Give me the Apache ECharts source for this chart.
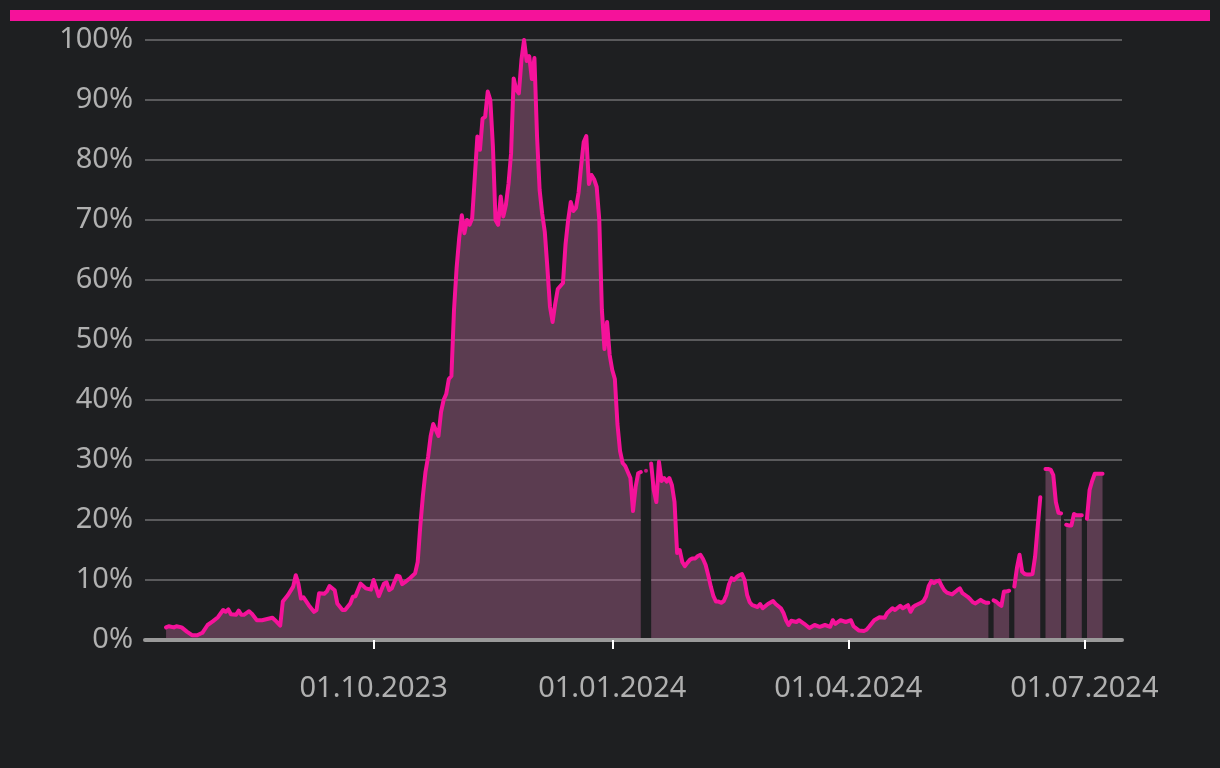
<!DOCTYPE html>
<html>
<head>
<meta charset="utf-8">
<script src="https://cdn.jsdelivr.net/npm/echarts@6/dist/echarts.min.js"></script>
<style>
  html, body { margin:0; padding:0; background:#1e1f21; }
  #chart { width:1220px; height:768px; }
</style>
</head>
<body>
<div id="chart"></div>
<script>
// ---- data ----
const dates = [
'2023-07-13','2023-07-14','2023-07-16','2023-07-17','2023-07-19','2023-07-21','2023-07-23','2023-07-25','2023-07-27','2023-07-29',
'2023-07-31','2023-08-02','2023-08-04','2023-08-05','2023-08-06','2023-08-07','2023-08-09','2023-08-10','2023-08-11','2023-08-12',
'2023-08-14','2023-08-15','2023-08-17','2023-08-19','2023-08-21','2023-08-23','2023-08-24','2023-08-26','2023-08-27','2023-08-29',
'2023-08-31','2023-09-01','2023-09-02','2023-09-03','2023-09-04','2023-09-06','2023-09-08','2023-09-09','2023-09-10','2023-09-12',
'2023-09-13','2023-09-14','2023-09-16','2023-09-17','2023-09-19','2023-09-20','2023-09-22','2023-09-23','2023-09-24','2023-09-26',
'2023-09-28','2023-09-30','2023-10-01','2023-10-03','2023-10-05','2023-10-06','2023-10-07','2023-10-08','2023-10-10','2023-10-11',
'2023-10-12','2023-10-13','2023-10-15','2023-10-16','2023-10-17','2023-10-18','2023-10-19','2023-10-20','2023-10-21','2023-10-22',
'2023-10-23','2023-10-24','2023-10-25','2023-10-26','2023-10-27','2023-10-28','2023-10-29','2023-10-30','2023-10-31','2023-11-01',
'2023-11-02','2023-11-03','2023-11-04','2023-11-05','2023-11-06','2023-11-07','2023-11-08','2023-11-09','2023-11-10','2023-11-11',
'2023-11-12','2023-11-13','2023-11-14','2023-11-15','2023-11-16','2023-11-17','2023-11-18','2023-11-19','2023-11-20','2023-11-21',
'2023-11-22','2023-11-23','2023-11-24','2023-11-25','2023-11-26','2023-11-27','2023-11-28','2023-11-29','2023-11-30','2023-12-01',
'2023-12-02','2023-12-03','2023-12-04','2023-12-05','2023-12-06','2023-12-07','2023-12-08','2023-12-09','2023-12-10','2023-12-11',
'2023-12-12','2023-12-13','2023-12-14','2023-12-15','2023-12-16','2023-12-17','2023-12-18','2023-12-19','2023-12-20','2023-12-21',
'2023-12-22','2023-12-23','2023-12-24','2023-12-25','2023-12-26','2023-12-27','2023-12-28','2023-12-29','2023-12-30','2023-12-31',
'2024-01-01','2024-01-02','2024-01-03','2024-01-04','2024-01-05','2024-01-06','2024-01-07','2024-01-08','2024-01-09','2024-01-10',
'2024-01-11','2024-01-12','2024-01-13','2024-01-14','2024-01-15','2024-01-16','2024-01-17','2024-01-18','2024-01-19','2024-01-20',
'2024-01-21','2024-01-22','2024-01-23','2024-01-24','2024-01-25','2024-01-26','2024-01-27','2024-01-28','2024-01-29','2024-01-30',
'2024-01-31','2024-02-01','2024-02-02','2024-02-03','2024-02-04','2024-02-05','2024-02-06','2024-02-07','2024-02-08','2024-02-09',
'2024-02-10','2024-02-11','2024-02-12','2024-02-13','2024-02-14','2024-02-15','2024-02-16','2024-02-17','2024-02-18','2024-02-19',
'2024-02-20','2024-02-21','2024-02-22','2024-02-23','2024-02-24','2024-02-26','2024-02-27','2024-02-28','2024-03-01','2024-03-03',
'2024-03-04','2024-03-06','2024-03-07','2024-03-08','2024-03-09','2024-03-10','2024-03-12','2024-03-13','2024-03-15','2024-03-17',
'2024-03-19','2024-03-21','2024-03-23','2024-03-25','2024-03-26','2024-03-27','2024-03-29','2024-03-31','2024-04-02','2024-04-03',
'2024-04-05','2024-04-07','2024-04-08','2024-04-09','2024-04-11','2024-04-13','2024-04-15','2024-04-16','2024-04-18','2024-04-19',
'2024-04-21','2024-04-22','2024-04-24','2024-04-25','2024-04-26','2024-04-27','2024-04-29','2024-04-30','2024-05-01','2024-05-02',
'2024-05-03','2024-05-04','2024-05-05','2024-05-06','2024-05-07','2024-05-08','2024-05-09','2024-05-11','2024-05-13','2024-05-14',
'2024-05-15','2024-05-17','2024-05-18','2024-05-19','2024-05-20','2024-05-22','2024-05-23','2024-05-24','2024-05-25','2024-05-26',
'2024-05-27','2024-05-28','2024-05-29','2024-05-30','2024-05-31','2024-06-01','2024-06-02','2024-06-03','2024-06-04','2024-06-05',
'2024-06-06','2024-06-07','2024-06-08','2024-06-09','2024-06-10','2024-06-11','2024-06-12','2024-06-13','2024-06-14','2024-06-15',
'2024-06-16','2024-06-17','2024-06-18','2024-06-19','2024-06-20','2024-06-21','2024-06-22','2024-06-23','2024-06-24','2024-06-25',
'2024-06-26','2024-06-27','2024-06-28','2024-06-29','2024-06-30','2024-07-01','2024-07-02','2024-07-03','2024-07-04','2024-07-05',
'2024-07-06','2024-07-07','2024-07-08'
];
const values = [
2.1,2.3,2.1,2.3,2.1,1.4,0.8,0.8,1.2,2.5,
3.1,3.8,5.0,4.7,5.1,4.3,4.2,4.9,4.2,4.2,
4.8,4.4,3.3,3.3,3.5,3.7,3.3,2.4,6.4,7.5,
8.9,10.8,9.4,6.9,7.1,5.8,4.7,5.0,7.8,7.7,
8.1,9.0,8.3,6.1,5.0,5.0,6.1,7.2,7.3,9.4,
8.6,8.4,10.0,7.3,9.4,9.6,8.3,8.6,10.7,10.6,
9.3,9.6,10.3,10.7,11.1,13,19,24,28,30.5,
34,36,35,34,38,40,41,43.5,44,55,
62,67,70.8,67.8,70,69.2,70.3,77,83.9,81.7,
86.9,87.2,91.4,90,82.2,70,69.2,73.9,70.6,72.5,
76,81.1,93.6,91.7,91.1,96.7,100,96.5,97.3,93.5,
97,84,75,71,68,62,55.5,53,56,58.5,
59,59.5,66,70,73,71.5,72,74.5,79,83,
84,76,77.5,76.8,75.5,70,55,48.5,53,47.5,
45,43.5,36,31.5,29.5,29,28,27,21.5,25.5,
27.8,28,null,28.2,null,29.4,25,23,29.7,26.5,
27,26.4,27,25.8,23,14.5,15,13,12.3,12.9,
13.4,13.6,13.6,14,14.2,13.5,12.5,10.8,8.9,7.3,
6.4,6.4,6.2,6.5,7.5,9.3,10.3,10,10.5,10.8,
11,10,7.5,6.3,5.8,5.5,6,5.3,6,6.5,
6,5.3,4.5,3.3,2.5,3.2,3,3.3,2.7,2,
2.5,2.2,2.5,2.2,3.3,2.7,3.3,3,3.3,2.3,
1.6,1.5,1.7,2.2,3.3,3.8,3.7,4.5,5.3,5,
5.7,5.3,5.8,4.7,5.5,5.8,6.2,6.5,7.3,9,
9.8,9.5,9.8,9.9,9,8.3,7.9,7.6,8.3,8.6,
7.8,7.2,6.8,6.3,6.1,6.7,6.4,6.2,6.2,null,
6.6,6.4,6.0,5.7,8.1,8.1,8.2,null,8.9,12,
14.2,11.4,11,10.9,10.9,11,13.9,18.9,23.8,null,
28.5,28.5,28.4,27.5,23,21.2,21.1,null,19.2,19.1,
19.1,21,20.8,20.8,20.8,null,20.2,25,26.5,27.7,
27.7,27.7,27.7
];
const tickLabels = ['2023-10-01','2024-01-01','2024-04-01','2024-07-01'];

// ---- helpers ----
function toTime(s){ const p = s.split('-').map(Number); return new Date(p[0], p[1]-1, p[2]).getTime(); }
function fmt(v){ const d = new Date(v); const pad = n => (n<10?'0':'')+n; return pad(d.getDate())+'.'+pad(d.getMonth()+1)+'.'+d.getFullYear(); }

const mainData = dates.map((d,i)=>[toTime(d), values[i]]);
// background-coloured cover over the no-data gaps
const coverData = [];
const isolated = [];
for (let i=1;i<values.length-1;i++){
  if (values[i]===null){
    coverData.push([toTime(dates[i-1]), values[i-1]]);
    coverData.push([toTime(dates[i+1]), values[i+1]]);
    coverData.push([toTime(dates[i+1]), null]);
  } else if (values[i-1]===null && values[i+1]===null){
    isolated.push([toTime(dates[i]), values[i]]);
  }
}
const tickTimes = tickLabels.map(toTime);
const DAY = 86400000;
const xMin = toTime('2023-07-05') - 0.12*DAY;
const xMax = toTime('2024-07-15') + 0.5*DAY;

const PINK = '#f5129a';
const BG = '#1e1f21';
const FONT = "'Noto Sans', 'Open Sans', sans-serif";

const chart = echarts.init(document.getElementById('chart'), null, {renderer:'canvas'});
chart.setOption({
  backgroundColor: BG,
  animation: false,
  grid: {left:145, right:98, top:40, bottom:128, containLabel:false},
  xAxis: {
    type:'value', min:xMin, max:xMax, z:10, scale:true,
    axisLine:{show:true, onZero:false, lineStyle:{color:'#9a9a9a', width:4}},
    axisTick:{show:true, customValues:tickTimes, length:9, lineStyle:{color:'#ffffff', width:2}},
    axisLabel:{customValues:tickTimes, formatter:fmt, color:'#b0b0b0', fontSize:29, fontFamily:FONT, margin:34},
    splitLine:{show:false}
  },
  yAxis: {
    type:'value', min:0, max:100, interval:10,
    axisLine:{show:false}, axisTick:{show:false},
    axisLabel:{formatter:'{value}%', color:'#b0b0b0', fontSize:29, fontFamily:FONT, margin:12},
    splitLine:{lineStyle:{color:'#5a5a5c', width:2}}
  },
  series: [
    {
      type:'line', data:coverData, z:2, showSymbol:false, silent:true,
      connectNulls:false,
      lineStyle:{width:0, color:BG},
      areaStyle:{color:BG, opacity:1}
    },
    {
      type:'line', data:mainData, z:3, showSymbol:false, connectNulls:false,
      lineStyle:{color:PINK, width:4, cap:'round', join:'round'},
      areaStyle:{color:'rgba(192,108,158,0.38)', opacity:1}
    },
    {
      type:'scatter', data:isolated, z:4, symbolSize:4,
      itemStyle:{color:PINK}
    }
  ],
  graphic: [
    {type:'rect', shape:{x:10, y:10, width:1200, height:11}, style:{fill:PINK}, z:100}
  ]
});
</script>
</body>
</html>
